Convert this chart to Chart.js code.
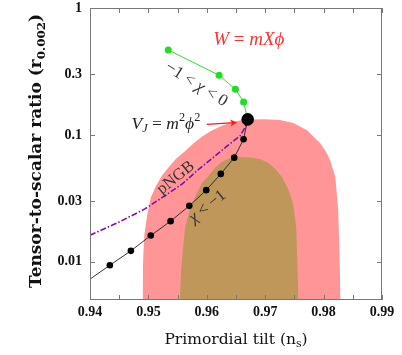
<!DOCTYPE html>
<html>
<head>
<meta charset="utf-8">
<script src="https://cdn.jsdelivr.net/npm/chart.js@4/dist/chart.umd.min.js"></script>
<style>
  html, body { margin: 0; padding: 0; background: #fff; }
</style>
</head>
<body>
<canvas id="chart" width="402" height="355"></canvas>
<script>
// Planck-like contours (outer 95%, inner 68%), top boundary traced left to right
const redNs = [0.9490, 0.9491, 0.9493, 0.9498, 0.9504, 0.9513, 0.9523, 0.9534, 0.9547, 0.9563, 0.9578, 0.9592, 0.9607,
  0.9623, 0.9640, 0.9657, 0.9674, 0.9700, 0.9725, 0.9748, 0.9771, 0.9785, 0.9794, 0.9804, 0.9811, 0.9820, 0.9825, 0.9827, 0.9829];
const redR = [0.005, 0.0104, 0.0163, 0.0234, 0.0319, 0.0397, 0.0476, 0.0550, 0.0647, 0.0748, 0.0865, 0.0970, 0.1075,
  0.1166, 0.1254, 0.1301, 0.1325, 0.1330, 0.1313, 0.1242, 0.1094, 0.0947, 0.0865, 0.0735, 0.0635, 0.0467, 0.0257, 0.0124, 0.005];
const brownNs = [0.9554, 0.9556, 0.9559, 0.9563, 0.9571, 0.9583, 0.9592, 0.9602, 0.9614, 0.9626, 0.9640, 0.9657,
  0.9674, 0.9691, 0.9705, 0.9717, 0.9728, 0.9736, 0.9742, 0.9748, 0.9753, 0.9755, 0.9757];
const brownR = [0.005, 0.00865, 0.0124, 0.0189, 0.0257, 0.0349, 0.0419, 0.0470, 0.0550, 0.0613, 0.0659, 0.0671,
  0.0665, 0.0647, 0.0602, 0.0540, 0.0470, 0.0404, 0.0349, 0.0281, 0.0190, 0.0104, 0.005];

// pNGB curve
const pngbNs = [0.9400, 0.9451, 0.9494, 0.9528, 0.9558, 0.9583, 0.9609, 0.9635, 0.9657, 0.9665, 0.9670];
const pngbR = [0.0162, 0.0207, 0.0261, 0.0331, 0.0411, 0.0521, 0.0653, 0.0819, 0.0982, 0.1135, 0.1325];

// W = m X phi, chi < -1 branch (first point only where the line leaves the frame)
const negNs = [0.9400, 0.9434, 0.9470, 0.9504, 0.9538, 0.9570, 0.9599, 0.9624, 0.9647, 0.9663, 0.9670];
const negR = [0.0073, 0.0094, 0.0122, 0.0161, 0.0209, 0.0276, 0.0367, 0.0493, 0.0662, 0.0925, 0.1325];

// -1 < chi < 0 branch
const posNs = [0.9534, 0.9621, 0.9649, 0.9663, 0.9670];
const posR = [0.467, 0.295, 0.229, 0.182, 0.1325];

// V_J = m^2 phi^2 point
const quadNs = [0.9670];
const quadR = [0.1325];

const xTicks = [0.94, 0.95, 0.96, 0.97, 0.98, 0.99];
const xMinor = [0.945, 0.955, 0.965, 0.975, 0.985];
const yTicks = [0.01, 0.03, 0.1, 0.3, 1];

const pts = (xs, ys) => xs.map((x, i) => ({ x: x, y: ys[i] }));

const SERIF = '"Liberation Serif", "DejaVu Serif", serif';
const WIDE = '"DejaVu Serif", serif';

function drawMath(ctx, parts, x, y, angle, color, size, weight, family) {
  ctx.save();
  ctx.translate(x, y);
  ctx.rotate(angle * Math.PI / 180);
  ctx.fillStyle = color;
  ctx.textBaseline = 'middle';
  ctx.textAlign = 'left';
  const font = p => (p.i ? 'italic ' : '') + (weight || 'normal') + ' ' +
    ((p.sub || p.sup) ? size * 0.7 : size) + 'px ' + (family || SERIF);
  let w = 0;
  parts.forEach(p => { ctx.font = font(p); w += ctx.measureText(p.t).width; });
  let cx = -w / 2;
  parts.forEach(p => {
    ctx.font = font(p);
    const dy = p.sub ? size * 0.3 : p.sup ? -size * 0.35 : 0;
    ctx.fillText(p.t, cx, dy);
    cx += ctx.measureText(p.t).width;
  });
  ctx.restore();
}

const decorations = {
  id: 'decorations',
  afterDraw(chart) {
    const ctx = chart.ctx;
    const a = chart.chartArea;
    const xs = chart.scales.x, ys = chart.scales.y;

    // frame and inward ticks
    ctx.save();
    ctx.strokeStyle = '#777';
    ctx.lineWidth = 1;
    ctx.strokeRect(a.left + 0.5, a.top + 0.5, a.right - a.left - 1, a.bottom - a.top - 1);
    ctx.beginPath();
    xTicks.concat(xMinor).forEach(v => {
      const px = Math.round(xs.getPixelForValue(v)) + 0.5;
      ctx.moveTo(px, a.bottom); ctx.lineTo(px, a.bottom - 5);
      ctx.moveTo(px, a.top); ctx.lineTo(px, a.top + 5);
    });
    yTicks.forEach(v => {
      const py = Math.round(ys.getPixelForValue(v)) + 0.5;
      ctx.moveTo(a.left, py); ctx.lineTo(a.left + 5, py);
      ctx.moveTo(a.right, py); ctx.lineTo(a.right - 5, py);
    });
    ctx.stroke();
    ctx.restore();

    // axis titles
    drawMath(ctx, [{ t: 'Primordial tilt (n' }, { t: 's', sub: true }, { t: ')' }],
      (a.left + a.right) / 2, a.bottom + 40, 0, '#111', 15.5, 'normal', WIDE);
    drawMath(ctx, [{ t: 'Tensor-to-scalar ratio (r' }, { t: '0.002', sub: true }, { t: ')' }],
      37, (a.top + a.bottom) / 2 - 3, -90, '#111', 17, 'bold', WIDE);

    // annotations anchored in data coordinates
    const P = (nx, r) => [xs.getPixelForValue(nx), ys.getPixelForValue(r)];
    let p = P(0.9672, 0.56);
    drawMath(ctx, [{ t: 'W', i: true }, { t: ' = ' }, { t: 'mXϕ', i: true }], p[0], p[1], 0, '#ff3030', 19);
    p = P(0.9582, 0.25);
    drawMath(ctx, [{ t: '−1 < ' }, { t: 'χ', i: true }, { t: ' < 0' }], p[0], p[1], 32, '#333', 17);
    p = P(0.9530, 0.122);
    drawMath(ctx, [{ t: 'V', i: true }, { t: 'J', i: true, sub: true }, { t: ' = ' }, { t: 'm', i: true },
      { t: '2', sup: true }, { t: 'ϕ', i: true }, { t: '2', sup: true }], p[0], p[1], 0, '#222', 17.5);
    p = P(0.9547, 0.0459);
    drawMath(ctx, [{ t: 'pNGB' }], p[0], p[1], -39, '#333', 16.5);
    p = P(0.9601, 0.0272);
    drawMath(ctx, [{ t: 'χ', i: true }, { t: ' < −1' }], p[0], p[1], -39, '#333', 16.5);

    // red arrow
    const p1 = P(0.9600, 0.121), p2 = P(0.9652, 0.125);
    ctx.save();
    ctx.strokeStyle = '#ff1a1a';
    ctx.fillStyle = '#ff1a1a';
    ctx.lineWidth = 1.2;
    ctx.beginPath(); ctx.moveTo(p1[0], p1[1]); ctx.lineTo(p2[0] - 3, p2[1]); ctx.stroke();
    const ang = Math.atan2(p2[1] - p1[1], p2[0] - p1[0]);
    ctx.translate(p2[0], p2[1]); ctx.rotate(ang);
    ctx.beginPath(); ctx.moveTo(0, 0); ctx.lineTo(-7, -3.5); ctx.lineTo(-5, 0); ctx.lineTo(-7, 3.5); ctx.closePath(); ctx.fill();
    ctx.restore();
  }
};

const tickFont = { family: SERIF, weight: 'bold', size: 14 };

new Chart(document.getElementById('chart').getContext('2d'), {
  type: 'line',
  data: {
    datasets: [
      { data: pts(redNs, redR), backgroundColor: '#ff9597', borderWidth: 0, pointRadius: 0, fill: 'start', tension: 0, order: 10 },
      { data: pts(brownNs, brownR), backgroundColor: '#bf975a', borderWidth: 0, pointRadius: 0, fill: 'start', tension: 0, order: 9 },
      { data: pts(pngbNs, pngbR), borderColor: '#7a10b0', borderWidth: 1.6, borderDash: [6, 2, 1.5, 2], pointRadius: 0, fill: false, order: 4 },
      { data: pts(negNs, negR), borderColor: '#222', borderWidth: 0.9, backgroundColor: '#000',
        pointRadius: negNs.map((v, i) => (i === 0 || i === negNs.length - 1) ? 0 : 3.3), pointBorderWidth: 0, fill: false, order: 3 },
      { data: pts(posNs, posR), borderColor: '#30e030', borderWidth: 1, backgroundColor: '#1fe01f',
        pointRadius: posNs.map((v, i) => i === posNs.length - 1 ? 0 : 3.5), pointBorderWidth: 0, fill: false, order: 3 },
      { data: pts(quadNs, quadR), showLine: false, backgroundColor: '#000', pointRadius: 6.3, pointBorderWidth: 0, order: 1 }
    ]
  },
  options: {
    responsive: false,
    animation: false,
    layout: { padding: { left: 0, right: 20, top: 8, bottom: 0 } },
    plugins: { legend: { display: false }, tooltip: { enabled: false } },
    scales: {
      x: {
        type: 'linear', min: 0.94, max: 0.99,
        afterBuildTicks: s => { s.ticks = xTicks.map(v => ({ value: v })); },
        afterFit: s => { s.height = 55; s.paddingLeft = 0; s.paddingRight = 0; },
        ticks: { font: tickFont, color: '#111', padding: 4, maxRotation: 0, callback: v => v.toFixed(2) },
        grid: { display: false, drawTicks: false },
        border: { display: false }
      },
      y: {
        type: 'logarithmic', min: 0.005, max: 1,
        afterBuildTicks: s => { s.ticks = yTicks.map(v => ({ value: v })); },
        afterFit: s => { s.width = 90; s.paddingTop = 0; s.paddingBottom = 0; },
        ticks: { font: tickFont, color: '#111', padding: 8, callback: v => String(v) },
        grid: { display: false, drawTicks: false },
        border: { display: false }
      }
    }
  },
  plugins: [decorations]
});
</script>
</body>
</html>
